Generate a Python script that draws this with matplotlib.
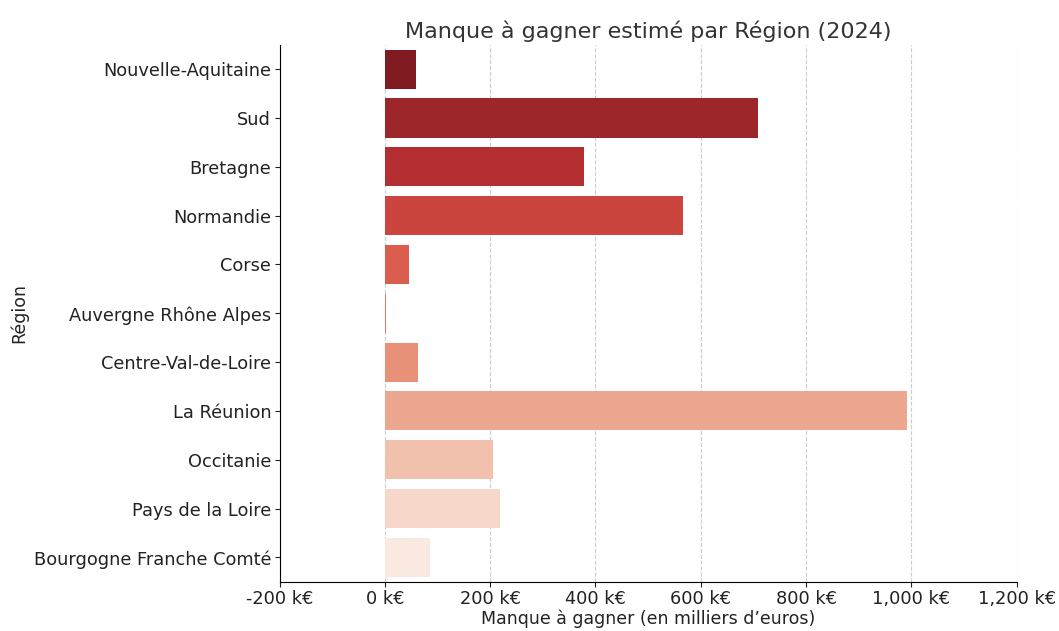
import numpy as np
import pandas as pd
import matplotlib
matplotlib.use('Agg')
import matplotlib.pyplot as plt
import matplotlib.ticker as mticker
import seaborn as sns

# data (k€)
regions = ['Nouvelle-Aquitaine', 'Sud', 'Bretagne', 'Normandie', 'Corse',
           'Auvergne Rhône Alpes', 'Centre-Val-de-Loire', 'La Réunion',
           'Occitanie', 'Pays de la Loire', 'Bourgogne Franche Comté']
manque = [60, 708, 378, 567, 45, 2, 62, 991, 205, 218, 85]

df = pd.DataFrame({'Région': regions, 'Manque': manque})

fig = plt.figure(figsize=(10.59, 6.31), dpi=100)
ax = fig.add_axes([0.264, 0.078, 0.696, 0.851])

sns.barplot(data=df, x='Manque', y='Région', hue='Région',
            palette='Reds_r', legend=False, ax=ax)

ax.set_xlim(-200, 1200)
ax.xaxis.set_major_locator(mticker.MultipleLocator(200))
ax.xaxis.set_major_formatter(mticker.FuncFormatter(lambda v, p: '{:,.0f} k€'.format(v)))
ax.grid(axis='x', linestyle='--', color='#cccccc', linewidth=0.8)
ax.set_axisbelow(True)
for s in ['top', 'right']:
    ax.spines[s].set_visible(False)

ax.tick_params(axis='both', labelsize=12.8, colors='#222222', pad=2.5)
ax.set_title('Manque à gagner estimé par Région (2024)', fontsize=16, color='#333333', pad=5)
ax.set_xlabel('Manque à gagner (en milliers d’euros)', fontsize=12.5, color='#222222', labelpad=1)
ax.set_ylabel('Région', fontsize=12.5, color='#222222')

fig.savefig('out.png', dpi=100)
